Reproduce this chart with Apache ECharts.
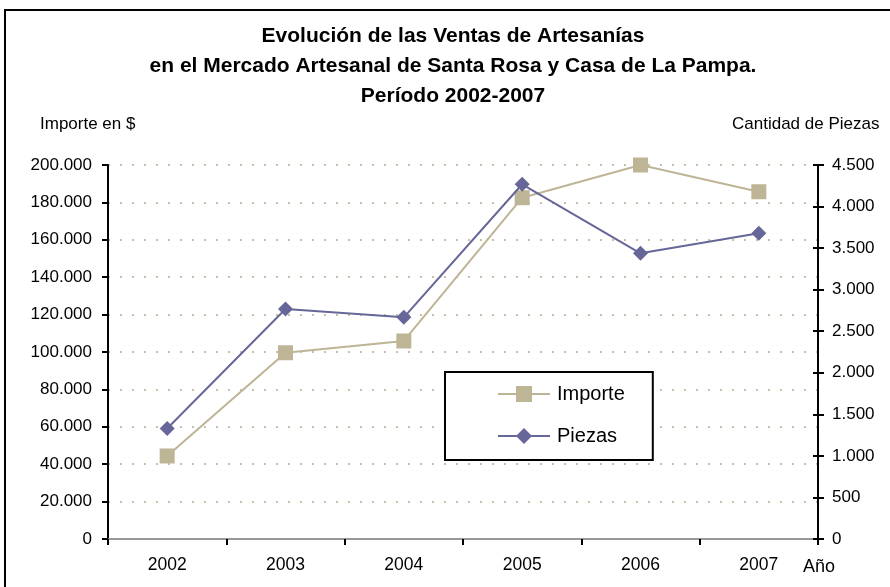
<!DOCTYPE html>
<html>
<head>
<meta charset="utf-8">
<script src="https://cdn.jsdelivr.net/npm/echarts@6/dist/echarts.min.js"></script>
<style>
  html, body { margin: 0; padding: 0; background: #fff; }
  #chart { width: 890px; height: 587px; }
</style>
</head>
<body>
<div id="chart"></div>
<script>
// Años
const years = ['2002', '2003', '2004', '2005', '2006', '2007'];
// Importe de ventas en $
const importe = [44400, 99600, 105900, 182500, 200000, 185700];
// Cantidad de piezas vendidas
const piezas = [1330, 2767, 2667, 4268, 3437, 3678];

const FONT = '"Liberation Sans", Arial, sans-serif';
const TAN = '#BEB496';
const PURPLE = '#666699';

function fmtMiles(v) {
  return String(v).replace(/\B(?=(\d{3})+(?!\d))/g, '.');
}

const chart = echarts.init(document.getElementById('chart'));
chart.setOption({
  backgroundColor: '#fff',
  animation: false,
  textStyle: { fontFamily: FONT },
  title: {
    text: 'Evolución de las Ventas de Artesanías\nen el Mercado Artesanal de Santa Rosa y Casa de La Pampa.\nPeríodo 2002-2007',
    left: 448,
    top: 16,
    textAlign: 'center',
    textStyle: {
      fontFamily: FONT, fontSize: 21, fontWeight: 'bold',
      color: '#000', lineHeight: 30
    }
  },
  legend: {
    orient: 'vertical',
    left: 445,
    top: 372,
    padding: [12, 28, 14, 52],
    itemWidth: 52,
    itemHeight: 20,
    itemGap: 22,
    borderColor: '#000',
    borderWidth: 2,
    backgroundColor: '#fff',
    textStyle: { fontFamily: FONT, fontSize: 20, color: '#000', padding: [0, 0, 0, 2] },
    data: ['Importe', 'Piezas']
  },
  grid: { left: 108, right: 72, top: 165, bottom: 48, containLabel: false },
  xAxis: [
    {
      type: 'category',
      data: years,
      boundaryGap: true,
      axisLine: { lineStyle: { color: '#000', width: 2 } },
      axisTick: { show: true, length: 6, lineStyle: { color: '#000', width: 2 } },
      axisLabel: { color: '#000', fontSize: 17.5, fontFamily: FONT, margin: 17 },
      splitLine: { show: false }
    },
    {
      // línea superior del área de trazado
      type: 'category',
      data: years,
      position: 'top',
      axisLine: { lineStyle: { color: '#999', width: 2 } },
      axisTick: { show: false },
      axisLabel: { show: false },
      splitLine: { show: false }
    }
  ],
  yAxis: [
    {
      type: 'value',
      min: 0, max: 200000, interval: 20000,
      position: 'left',
      axisLine: { show: true, lineStyle: { color: '#000', width: 2 } },
      axisTick: { show: true, length: 6, lineStyle: { color: '#000', width: 2 } },
      axisLabel: { color: '#000', fontSize: 17, fontFamily: FONT, margin: 16, formatter: fmtMiles },
      splitLine: { show: true, lineStyle: { color: '#C8C0A4', width: 2, type: [2, 10] } }
    },
    {
      type: 'value',
      min: 0, max: 4500, interval: 500,
      position: 'right',
      axisLine: { show: true, lineStyle: { color: '#000', width: 2 } },
      axisTick: { show: true, length: 6, lineStyle: { color: '#000', width: 2 } },
      axisLabel: { color: '#000', fontSize: 17, fontFamily: FONT, margin: 14, formatter: fmtMiles },
      splitLine: { show: false }
    },
    {
      // marcas interiores del eje derecho
      type: 'value',
      min: 0, max: 4500, interval: 500,
      position: 'right',
      axisLine: { show: false },
      axisTick: { show: true, inside: true, length: 5, lineStyle: { color: '#000', width: 2 } },
      axisLabel: { show: false },
      splitLine: { show: false }
    }
  ],
  graphic: [
    {
      type: 'rect',
      shape: { x: 5, y: 10, width: 900, height: 600 },
      style: { fill: 'none', stroke: '#000', lineWidth: 2 },
      z: 100, silent: true
    },
    {
      type: 'text', left: 40, top: 116,
      style: { text: 'Importe en $', font: '17px ' + FONT, fill: '#000' }
    },
    {
      type: 'text', left: 732, top: 116,
      style: { text: 'Cantidad de Piezas', font: '17px ' + FONT, fill: '#000' }
    },
    {
      type: 'text', left: 803, top: 558,
      style: { text: 'Año', font: '18px ' + FONT, fill: '#000' }
    }
  ],
  series: [
    {
      name: 'Importe',
      type: 'line',
      xAxisIndex: 0,
      yAxisIndex: 0,
      data: importe,
      symbol: 'rect',
      symbolSize: 15,
      color: TAN,
      lineStyle: { color: TAN, width: 2 },
      itemStyle: { color: TAN },
      z: 3
    },
    {
      name: 'Piezas',
      type: 'line',
      xAxisIndex: 0,
      yAxisIndex: 1,
      data: piezas,
      symbol: 'diamond',
      symbolSize: 15,
      color: PURPLE,
      lineStyle: { color: PURPLE, width: 2 },
      itemStyle: { color: PURPLE },
      z: 4
    }
  ]
});
</script>
</body>
</html>
